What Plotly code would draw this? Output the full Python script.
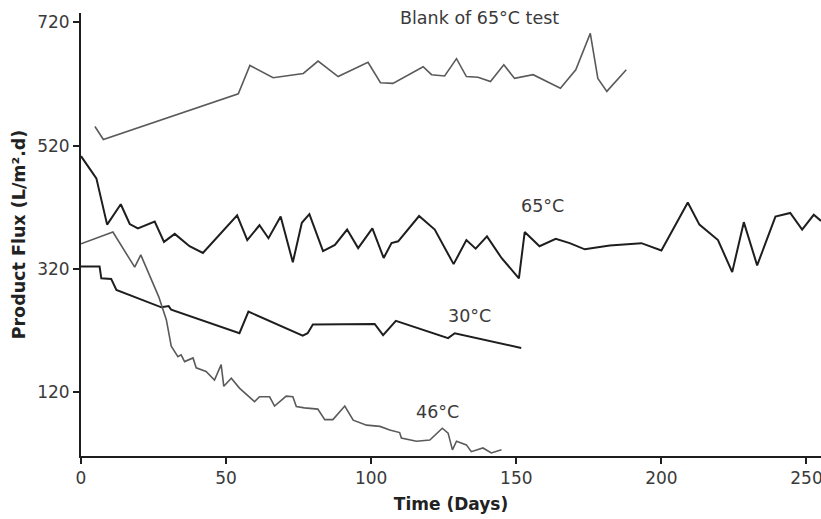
import plotly.graph_objects as go

# ---- data ----
blank_days = [4.8, 7.7, 54.2, 58.2, 66.2, 76.6, 81.7, 88.6, 98.9, 103.2, 107.5, 117.9, 120.8,
              125.3, 129.4, 132.8, 136.8, 141.1, 145.7, 149.4, 155.8, 160.4, 165.2, 170.5,
              175.5, 178.1, 181.2, 187.9]
blank_flux = [551, 530, 604, 650, 630, 637, 657, 632, 655, 622, 621, 648, 635,
              633, 661, 632, 631, 624, 651, 629, 635, 624, 613, 643,
              702, 629, 608, 643]

t65_days = [0, 5.3, 9.0, 13.7, 16.8, 19.6, 25.4, 28.6, 32.3, 37.4, 42.0, 53.8, 57.3, 61.5,
            64.6, 68.8, 73.0, 76.1, 78.7, 83.4, 87.5, 91.7, 95.5, 100.4, 104.3, 107.0,
            109.3, 116.5, 121.9, 128.4, 132.8, 136.0, 139.9, 144.9, 150.9, 152.9, 158.0,
            163.6, 168.4, 173.6, 182.2, 193.1, 200.0, 209.1, 213.1, 219.5, 224.4, 228.4,
            233.0, 239.3, 244.4, 248.5, 252.5, 255.0]
t65_flux = [503, 467, 392, 425, 393, 386, 397, 364, 377, 357, 346, 407, 367, 391,
            370, 405, 331, 395, 409, 349, 359, 384, 354, 386, 338, 362,
            365, 406, 384, 328, 367, 353, 373, 338, 305, 380, 357,
            369, 362, 352, 358, 362, 350, 428, 392, 367, 315, 396,
            326, 405, 411, 384, 408, 398]

t30_days = [0, 6.4, 7.0, 10.4, 12.2, 27.7, 30.2, 31.1, 54.6, 57.7, 76.4, 78.1, 79.9,
            101.2, 104.1, 108.5, 126.5, 128.8, 151.7]
t30_flux = [324, 324, 305, 304, 286, 258, 260, 254, 216, 251, 212, 216, 230,
            231, 213, 236, 208, 216, 192]

t46_days = [0, 11.0, 18.5, 20.6, 26.8, 29.4, 31.1, 33.4, 34.5, 35.7, 38.6, 39.7, 43.1,
            46.0, 48.3, 49.2, 51.8, 54.6, 59.8, 61.5, 65.0, 66.7, 70.7, 73.0, 74.2,
            77.0, 81.6, 84.0, 86.8, 90.9, 93.8, 98.4, 103.0, 106.4, 109.8, 110.4,
            115.6, 120.2, 124.5, 126.5, 128.0, 129.4, 132.8, 134.5, 138.5, 141.4, 144.9]
t46_flux = [361, 380, 323, 343, 275, 238, 195, 178, 181, 170, 176, 160, 154,
            140, 165, 130, 143, 127, 105, 113, 113, 98, 114, 113, 97,
            95, 93, 76, 76, 98, 75, 67, 65, 59, 55, 46,
            41, 43, 62, 54, 27, 41, 35, 24, 30, 22, 27]

x_ticks = [0, 50, 100, 150, 200, 250]
y_ticks = [120, 320, 520, 720]

labels = ["Blank of 65°C test", "65°C", "30°C", "46°C"]
label_x = [137.4, 159, 134, 123]
label_y = [727, 423, 244, 89]

FONT = "DejaVu Sans, Verdana, sans-serif"
DARK = "#1e1e1e"
GREY = "#5a5a5a"
TXT = "#3a3a3a"

fig = go.Figure()
fig.add_trace(go.Scatter(x=blank_days, y=blank_flux, mode="lines",
                         line=dict(color=GREY, width=1.6), name=labels[0]))
fig.add_trace(go.Scatter(x=t65_days, y=t65_flux, mode="lines",
                         line=dict(color=DARK, width=2.0), name=labels[1]))
fig.add_trace(go.Scatter(x=t30_days, y=t30_flux, mode="lines",
                         line=dict(color=DARK, width=2.0), name=labels[2]))
fig.add_trace(go.Scatter(x=t46_days, y=t46_flux, mode="lines",
                         line=dict(color=GREY, width=1.6), name=labels[3]))

for txt, lx, ly in zip(labels, label_x, label_y):
    fig.add_annotation(x=lx, y=ly, text=txt, showarrow=False, xanchor="center",
                       yanchor="middle", font=dict(family=FONT, size=17.5, color=TXT))

fig.update_layout(
    width=821, height=519,
    margin=dict(l=81, r=0, t=13, b=63),
    paper_bgcolor="white", plot_bgcolor="white",
    showlegend=False,
    font=dict(family=FONT, size=16, color=TXT),
)
fig.update_xaxes(range=[0, 255], tickvals=x_ticks, ticks="outside", ticklen=6,
                 tickcolor=DARK, tickwidth=1.5, automargin=False,
                 ticklabeloverflow="allow",
                 showline=True, linecolor=DARK, linewidth=2, showgrid=False,
                 zeroline=False,
                 tickfont=dict(family=FONT, size=17, color=TXT),
                 title=dict(text="<b>Time (Days)</b>", standoff=11,
                            font=dict(family=FONT, size=17, color="#222222")))
fig.update_yaxes(range=[17, 735], tickvals=y_ticks, ticks="outside", ticklen=6,
                 tickcolor=DARK, tickwidth=1.5, automargin=False,
                 showline=True, linecolor=DARK, linewidth=2, showgrid=False,
                 zeroline=False,
                 tickfont=dict(family=FONT, size=17, color=TXT),
                 title=dict(text="<b>Product Flux (L/m².d)</b>", standoff=7,
                            font=dict(family=FONT, size=17.5, color="#222222")))

fig.write_html("out.html",
               config={"displayModeBar": False},
               post_script="document.body.style.margin='0';document.body.style.overflow='hidden';")
